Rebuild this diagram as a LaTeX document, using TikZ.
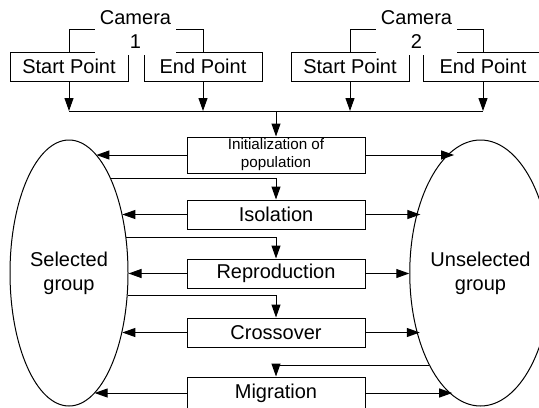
\documentclass[tikz,border=0pt]{standalone}
\usepackage{fontspec}
\setmainfont{Liberation Sans}
\usetikzlibrary{arrows.meta,shapes.geometric}

\begin{document}
\begin{tikzpicture}[x=0.5pt, y=-0.5pt, line width=0.5pt,
    >={Triangle[length=6.5pt,width=4.5pt]},
    pointbox/.style={draw, rectangle, inner sep=0pt, minimum width=59pt, minimum height=14.5pt},
    stepbox/.style={draw, rectangle, inner sep=0pt, minimum width=89pt, minimum height=14.5pt},
    camlabel/.style={fill=white, inner sep=0pt, align=center, minimum width=40.5pt, minimum height=25pt},
    group/.style={draw, ellipse, inner sep=0pt, align=center, minimum height=133pt}]

    \useasboundingbox (0,0) rectangle (539,407);

    % Start and end points of both cameras
    \node[pointbox] (sp1) at (69,66.5) {Start Point};
    \node[pointbox] (ep1) at (203,66.5) {End Point};
    \node[pointbox] (sp2) at (350,66.5) {Start Point};
    \node[pointbox, minimum width=60pt] (ep2) at (483,66.5) {End Point};

    % Brackets with camera labels on top
    \draw (sp1.north) -- ++(0,-22) -| (ep1.north);
    \draw (sp2.north) -- ++(0,-22) -| (ep2.north);
    \node[camlabel] (cam1) at (135.5,30) {Camera\\1};
    \node[camlabel] (cam2) at (416.5,30) {Camera\\2};

    % Steps of the algorithm
    \node[stepbox, minimum height=18pt, align=center,
          font=\fontsize{7.6}{9}\selectfont] (init) at (276,155) {Initialization of\\population};
    \node[stepbox] (iso) at (276,214.5) {Isolation};
    \node[stepbox] (rep) at (276,273.5) {Reproduction};
    \node[stepbox] (cross) at (276,332.5) {Crossover};
    \node[stepbox, minimum height=16pt] (mig) at (276,393) {Migration};

    % The two groups
    \node[group, minimum width=59pt] (sel) at (69,273) {Selected\\group};
    \node[group, minimum width=57.5pt] (unsel) at (480.5,273) {Unselected\\group};

    % Camera points into the first step
    \coordinate (bus) at (0,111);
    \foreach \b in {sp1,ep1,sp2,ep2}
        \draw[->] (\b.south) -- (\b.south |- bus);
    \draw (sp1.south |- bus) -- (ep2.south |- bus);
    \draw[->] (bus -| init.north) -- (init.north);

    % Each step sends to both groups
    \draw[->] (init.west) -- (init.west -| sel.77);
    \draw[->] (iso.west) -- (iso.west -| sel.48.1);
    \draw[->] (rep.west) -- (rep.west -| sel.0);
    \draw[->] (cross.west) -- (cross.west -| sel.-48.8);
    \draw[->] (mig.west) -- (mig.west -| sel.-78);

    \draw[->] (init.east) -- (init.east -| unsel.102.6);
    \draw[->] (iso.east) -- (iso.east -| unsel.130.9);
    \draw[->] (rep.east) -- (rep.east -| unsel.180);
    \draw[->] (cross.east) -- (cross.east -| unsel.229.7);
    \draw[->] (mig.east) -- (mig.east -| unsel.257.4);

    % Groups feed the next step
    \draw[->] (sel.66.5) -| (iso.north);
    \draw[->] (sel.32.4) -| (rep.north);
    \draw[->] (sel.-21.6) -| (cross.north);
    \draw[->] (unsel.241.7) -| (mig.north);

\end{tikzpicture}
\end{document}
